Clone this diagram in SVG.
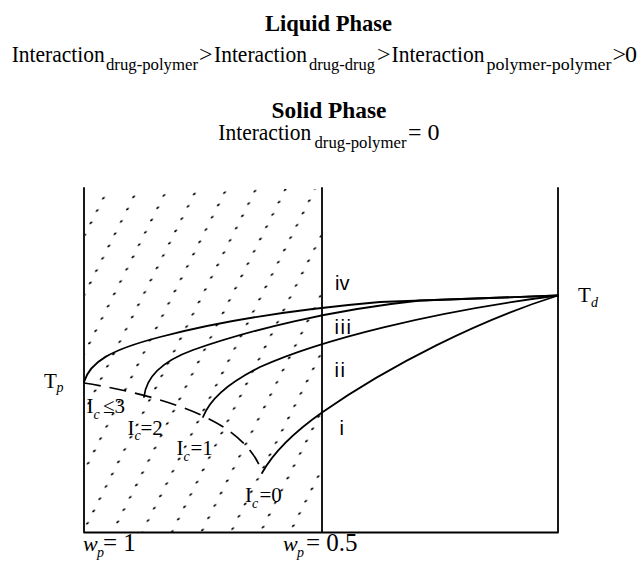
<svg xmlns="http://www.w3.org/2000/svg" width="644" height="563" viewBox="0 0 644 563">
<style>
text{font-family:'Liberation Serif','Times New Roman',Times,serif;fill:#000}
.b{font-weight:bold}
.m{font-size:24px}
.s{font-size:16.5px}
.lab{font-size:21px}
.sub{font-size:14px;font-style:italic}
text.num{font-family:'Liberation Sans',Arial,sans-serif;font-size:20px}
.ln{fill:none;stroke:#000;stroke-width:1.8;stroke-linecap:round;stroke-linejoin:round}
.dash{fill:none;stroke:#000;stroke-width:1.7;stroke-dasharray:17 9}
</style>
<defs>
<pattern id="dotpat" patternUnits="userSpaceOnUse" x="0" y="0" width="30.33" height="12" patternTransform="translate(91.42 192.84) rotate(-2.65) skewX(-29.4)">
<circle cx="15" cy="6" r="1.25" fill="#000"/>
</pattern>
</defs>
<rect width="644" height="563" fill="#fff"/>

<g id="titles" font-family="Liberation Serif, serif">
<text class="b m" x="265" y="31" textLength="127" lengthAdjust="spacingAndGlyphs">Liquid Phase</text>
<text class="m" x="11.7" y="61.5" textLength="93" lengthAdjust="spacingAndGlyphs">Interaction</text>
<text class="s" x="106" y="70" textLength="92" lengthAdjust="spacingAndGlyphs">drug-polymer</text>
<text class="m" x="199" y="61.5">&gt;</text>
<text class="m" x="214" y="61.5" textLength="93" lengthAdjust="spacingAndGlyphs">Interaction</text>
<text class="s" x="309" y="70" textLength="66" lengthAdjust="spacingAndGlyphs">drug-drug</text>
<text class="m" x="377" y="61.5">&gt;</text>
<text class="m" x="391.5" y="61.5" textLength="93" lengthAdjust="spacingAndGlyphs">Interaction</text>
<text class="s" x="486.5" y="70" textLength="125" lengthAdjust="spacingAndGlyphs">polymer-polymer</text>
<text class="m" x="612.5" y="61.5">&gt;</text>
<text class="m" x="625" y="61.5">0</text>
<text class="b m" x="271.5" y="118" textLength="115" lengthAdjust="spacingAndGlyphs">Solid Phase</text>
<text class="m" x="218.3" y="140" textLength="93" lengthAdjust="spacingAndGlyphs">Interaction</text>
<text class="s" x="314.5" y="148" textLength="92" lengthAdjust="spacingAndGlyphs">drug-polymer</text>
<text class="m" x="408" y="140">= 0</text>
</g>

<g id="dotted-region">
<rect x="85" y="189" width="236" height="343" fill="url(#dotpat)"/>
</g>

<g id="frame">
<path class="ln" d="M84,188 V532.5 H558 V188 M322,188 V532.5"/>
</g>

<g id="connectors">
<path id="curve-iv" class="ln" d="M84,382 C90,362 110,350 160,337 C220,321 300,309 380,302 L558,295.5"/>
<path id="curve-iii" class="ln" d="M144,397 C146,378 160,362 193,350 C250,330 330,310 420,300.5 L558,295.5"/>
<path id="curve-ii" class="ln" d="M203,417 C210,400 225,385 260,367 C320,340 430,312 558,295.5"/>
<path id="curve-i" class="ln" d="M262,473 C272,455 290,435 322,412.5 C390,365 480,320 558,295.5"/>
<path id="Ic-boundary" class="dash" d="M84,383 C130,390 190,405 225,428 C245,442 256,455 262,472"/>
</g>

<g id="label-Tp" font-family="Liberation Serif, serif">
<text class="lab" x="44" y="388">T</text>
<text class="sub" x="56.5" y="392">p</text>
</g>
<g id="label-Td" font-family="Liberation Serif, serif">
<text class="lab" x="578" y="301.7">T</text>
<text class="sub" x="591" y="307">d</text>
</g>

<g id="label-roman">
<text class="num" x="335" y="290">iv</text>
<text class="num" x="334.5" y="334" letter-spacing="1.5">iii</text>
<text class="num" x="334.5" y="376.5" letter-spacing="1.5">ii</text>
<text class="num" x="339.5" y="435">i</text>
</g>

<g id="label-Ic3">
<text class="lab" x="86.5" y="413.3">I</text>
<text class="sub" x="93.5" y="418.5">c</text>
<text class="lab" x="103" y="413.3">≤3</text>
</g>
<g id="label-Ic2">
<text class="lab" x="127.5" y="435">I</text>
<text class="sub" x="134.5" y="440">c</text>
<text class="lab" x="140.5" y="435">=2</text>
</g>
<g id="label-Ic1">
<text class="lab" x="176.5" y="455">I</text>
<text class="sub" x="183.5" y="460.5">c</text>
<text class="lab" x="190.5" y="455">=1</text>
</g>
<g id="label-Ic0">
<text class="lab" x="245" y="501.7">I</text>
<text class="sub" x="252" y="507.5">c</text>
<text class="lab" x="259.5" y="501.7">=0</text>
</g>

<g id="axis-labels">
<text font-size="22" font-style="italic" x="83" y="551">w</text>
<text class="sub" x="97" y="557">p</text>
<text font-size="25" x="103" y="551">= 1</text>
<text font-size="22" font-style="italic" x="283" y="551">w</text>
<text class="sub" x="297" y="557">p</text>
<text font-size="25" x="306" y="551">= 0.5</text>
</g>
</svg>
